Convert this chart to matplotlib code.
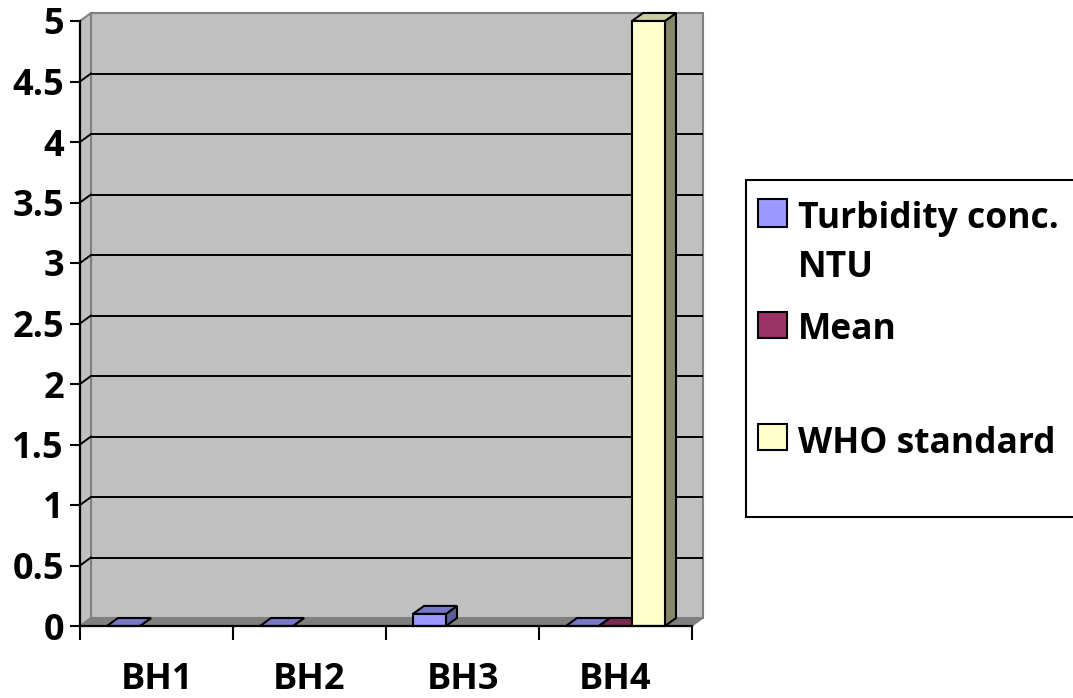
import numpy as np
import matplotlib
matplotlib.use("Agg")
import matplotlib.pyplot as plt
from matplotlib.patches import Polygon, Rectangle

# ---------------- data ----------------
categories = ["BH1", "BH2", "BH3", "BH4"]
turbidity = [0.0, 0.0, 0.1, 0.0]
mean_vals = [np.nan, np.nan, np.nan, 0.0]
who_std = [np.nan, np.nan, np.nan, 5.0]
series_names = ["Turbidity conc.\nNTU", "Mean", "WHO standard"]
y_ticks = [0, 0.5, 1, 1.5, 2, 2.5, 3, 3.5, 4, 4.5, 5]
y_tick_labels = ["0", "0.5", "1", "1.5", "2", "2.5", "3", "3.5", "4", "4.5", "5"]

# ---------------- style ----------------
W, H = 1073, 698
DPI = 100
FONT = "Open Sans"
front_cols = ["#9999FF", "#993366", "#FFFFCC"]
top_cols = ["#7878C8", "#7A2952", "#CCCCA3"]
side_cols = ["#5C5C99", "#5C1F3D", "#86866B"]

plt.rcParams["font.family"] = [FONT, "DejaVu Sans"]
plt.rcParams["font.weight"] = "bold"

fig = plt.figure(figsize=(W / DPI, H / DPI), dpi=DPI)
fig.patch.set_facecolor("white")

def fx(px):
    return px / W

def fy(py):
    return 1 - py / H

ax = fig.add_axes([80 / W, 72 / H, 612 / W, 605 / H])
ax.set_xlim(0, 4)
ax.set_ylim(0, 5)
ax.set_facecolor("none")

# depth offsets in data units (pixel offsets converted through the axes scale)
px_per_x = 612 / 4
px_per_y = 605 / 5
dx = 11 / px_per_x
dy = 8 / px_per_y
ymax = 5
n = len(categories)

# back wall
ax.add_patch(Polygon([(dx, dy), (n + dx, dy), (n + dx, ymax + dy), (dx, ymax + dy)],
                     closed=True, facecolor="#C0C0C0", edgecolor="#808080",
                     lw=1.5, clip_on=False, zorder=0))
# left side wall
ax.add_patch(Polygon([(0, 0), (dx, dy), (dx, ymax + dy), (0, ymax)],
                     closed=True, facecolor="#C0C0C0", edgecolor="#808080",
                     lw=1.5, clip_on=False, zorder=0.5))
# floor
ax.add_patch(Polygon([(0, 0), (n, 0), (n + dx, dy), (dx, dy)],
                     closed=True, facecolor="#808080", edgecolor="#808080",
                     lw=1.0, clip_on=False, zorder=0.6))

# gridlines
for yv in y_ticks[1:-1]:
    ax.plot([dx, n + dx], [yv + dy, yv + dy], color="black", lw=1.4,
            clip_on=False, zorder=1, solid_capstyle="butt")
    ax.plot([0, dx], [yv, yv + dy], color="black", lw=1.4,
            clip_on=False, zorder=1)

# bars
bw = 33 / px_per_x
all_series = [turbidity, mean_vals, who_std]
x_centers = np.arange(n) + 0.5
for i in range(n):
    for k, vals in enumerate(all_series):
        v = vals[i]
        if np.isnan(v):
            continue
        xc = x_centers[i] + (k - 1) * bw
        x0 = xc - bw / 2
        x1 = xc + bw / 2
        z = 2 + i * 0.1 + k * 0.01
        # side face
        ax.add_patch(Polygon([(x1, 0), (x1 + dx, dy), (x1 + dx, v + dy), (x1, v)],
                             closed=True, facecolor=side_cols[k], edgecolor="black",
                             lw=1.5, joinstyle="miter", clip_on=False, zorder=z))
        # top face
        ax.add_patch(Polygon([(x0, v), (x1, v), (x1 + dx, v + dy), (x0 + dx, v + dy)],
                             closed=True, facecolor=top_cols[k], edgecolor="black",
                             lw=1.5, joinstyle="miter", clip_on=False, zorder=z))
        # front face
        if v > 0:
            ax.bar(xc, v, width=bw, color=front_cols[k], edgecolor="black",
                   lw=1.5, zorder=z + 0.001, clip_on=False)

# spines / axes
for s in ["top", "right"]:
    ax.spines[s].set_visible(False)
for s in ["left", "bottom"]:
    ax.spines[s].set_color("black")
    ax.spines[s].set_linewidth(1.6)
    ax.spines[s].set_zorder(5)

ax.set_yticks(y_ticks)
ax.set_yticklabels(y_tick_labels)
ax.tick_params(axis="y", direction="out", length=7.5, width=1.5, pad=4,
               labelsize=26, colors="black")
for lab in ax.get_yticklabels():
    lab.set_fontweight("bold")

ax.set_xticks(np.arange(n + 1))
ax.set_xticklabels([""] * (n + 1))
ax.tick_params(axis="x", which="major", direction="out", length=10, width=1.5)
ax.set_xticks(x_centers, minor=True)
ax.set_xticklabels(categories, minor=True)
ax.tick_params(axis="x", which="minor", length=0, pad=26, labelsize=26)
for lab in ax.get_xticklabels(minor=True):
    lab.set_fontweight("bold")

# legend (manual)
fig.patches.append(Rectangle((fx(746), fy(517)), fx(1100) - fx(746), fy(180) - fy(517),
                             transform=fig.transFigure, facecolor="white",
                             edgecolor="black", lw=1.5, zorder=1))
patch_y = [(199, 227), (312, 338), (424, 450)]
text_base = [228, 339, 453]
for k in range(3):
    t, b = patch_y[k]
    fig.patches.append(Rectangle((fx(758), fy(b)), fx(787) - fx(758), fy(t) - fy(b),
                                 transform=fig.transFigure, facecolor=front_cols[k],
                                 edgecolor="black", lw=1.5, zorder=2))
    lines = series_names[k].split("\n")
    for j, line in enumerate(lines):
        fig.text(fx(798), fy(text_base[k] + j * 49), line, fontsize=25.5,
                 fontweight="bold", ha="left", va="baseline", color="black", zorder=3)

fig.savefig("out.png", dpi=DPI)
